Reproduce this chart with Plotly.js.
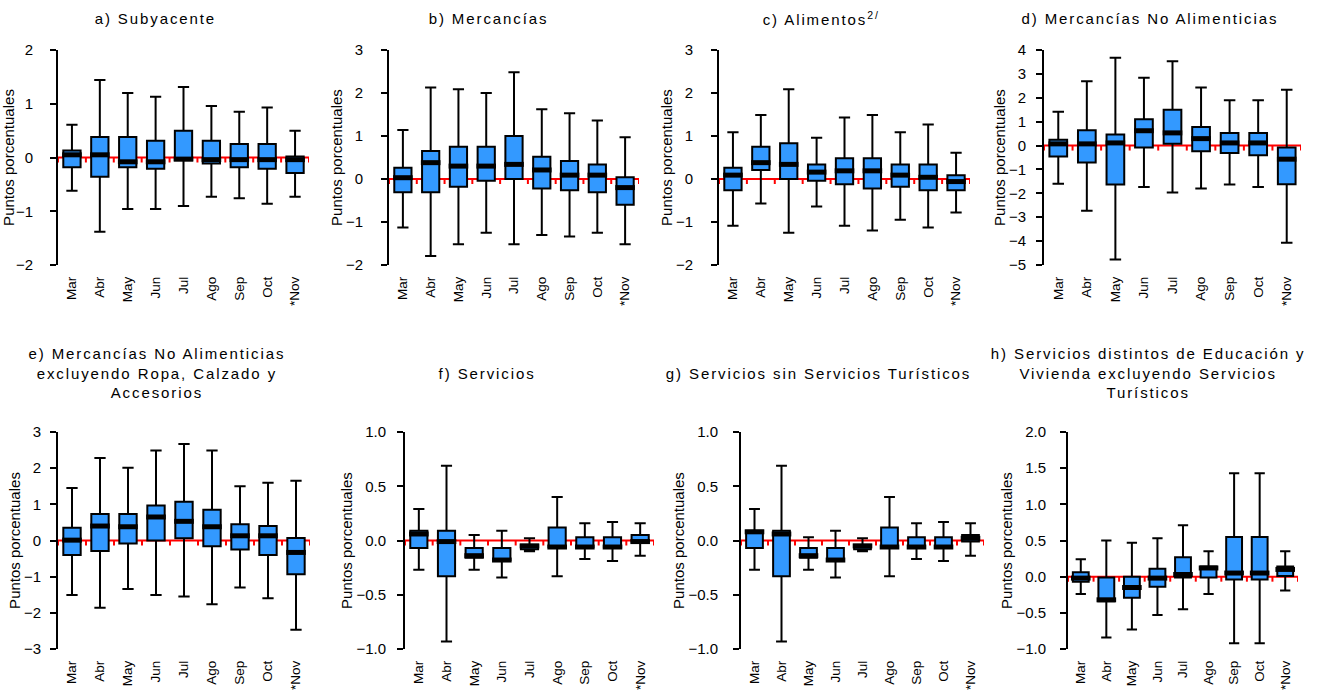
<!DOCTYPE html>
<html>
<head>
<meta charset="utf-8">
<script src="https://cdn.plot.ly/plotly-3.0.1.min.js"></script>
<style>
html,body{margin:0;padding:0;background:#fff;}
#chart{width:1321px;height:691px;}
#chart .annotation-text{letter-spacing:1.9px;}
</style>
</head>
<body>
<div id="chart"></div>
<script>
// ---- categories and tick labels ----
const months = ['Mar','Abr','May','Jun','Jul','Ago','Sep','Oct','Nov'];
const tickLabels = ['Mar','Abr','May','Jun','Jul','Ago','Sep','Oct','*Nov'];

// ---- panel titles ----
const titles = [
  'a) Subyacente',
  'b) Mercancías',
  'c) Alimentos<sup>2/</sup>',
  'd) Mercancías No Alimenticias',
  'e) Mercancías No Alimenticias<br>excluyendo Ropa, Calzado y<br>Accesorios',
  'f) Servicios',
  'g) Servicios sin Servicios Turísticos',
  'h) Servicios distintos de Educación y<br>Vivienda excluyendo Servicios<br>Turísticos'
];
const yTitle = 'Puntos porcentuales';

// ---- series values (min, q1, median, q3, max) ----
const a_min = [-0.62,-1.38,-0.96,-0.96,-0.90,-0.73,-0.76,-0.86,-0.73];
const a_q1  = [-0.18,-0.36,-0.18,-0.21,-0.05,-0.11,-0.18,-0.21,-0.29];
const a_med = [0.05,0.05,-0.08,-0.08,-0.03,-0.04,-0.04,-0.04,-0.04];
const a_q3  = [0.13,0.38,0.38,0.31,0.50,0.31,0.25,0.25,0.02];
const a_max = [0.61,1.44,1.20,1.13,1.31,0.96,0.85,0.93,0.50];

const b_min = [-1.13,-1.79,-1.52,-1.25,-1.52,-1.30,-1.34,-1.25,-1.52];
const b_q1  = [-0.31,-0.31,-0.18,-0.04,0.00,-0.22,-0.26,-0.31,-0.60];
const b_med = [0.03,0.38,0.30,0.30,0.34,0.21,0.09,0.09,-0.20];
const b_q3  = [0.26,0.65,0.75,0.75,1.00,0.52,0.42,0.34,0.04];
const b_max = [1.14,2.13,2.09,2.00,2.48,1.62,1.53,1.36,0.97];

const c_min = [-1.09,-0.57,-1.25,-0.64,-1.09,-1.20,-0.95,-1.13,-0.78];
const c_q1  = [-0.26,0.21,0.00,-0.04,-0.12,-0.22,-0.18,-0.26,-0.26];
const c_med = [0.09,0.38,0.34,0.16,0.19,0.19,0.09,0.04,-0.06];
const c_q3  = [0.26,0.75,0.83,0.34,0.48,0.48,0.34,0.34,0.09];
const c_max = [1.09,1.49,2.09,0.96,1.43,1.49,1.09,1.27,0.61];

const d_min = [-1.60,-2.73,-4.77,-1.73,-1.97,-1.80,-1.63,-1.73,-4.07];
const d_q1  = [-0.46,-0.71,-1.63,-0.08,0.08,-0.24,-0.31,-0.41,-1.62];
const d_med = [0.07,0.07,0.11,0.62,0.53,0.29,0.11,0.11,-0.57];
const d_q3  = [0.24,0.64,0.46,1.10,1.50,0.78,0.53,0.53,-0.08];
const d_max = [1.42,2.69,3.68,2.84,3.53,2.43,1.90,1.90,2.34];

const e_min = [-1.51,-1.86,-1.34,-1.51,-1.55,-1.76,-1.30,-1.60,-2.47];
const e_q1  = [-0.40,-0.29,-0.08,0.00,0.06,-0.16,-0.25,-0.40,-0.93];
const e_med = [0.01,0.40,0.38,0.65,0.53,0.38,0.13,0.13,-0.33];
const e_q3  = [0.35,0.73,0.73,0.97,1.07,0.85,0.45,0.40,0.07];
const e_max = [1.45,2.28,2.01,2.49,2.67,2.49,1.50,1.60,1.65];

const f_min = [-0.27,-0.93,-0.27,-0.34,-0.10,-0.33,-0.17,-0.19,-0.14];
const f_q1  = [-0.07,-0.33,-0.16,-0.18,-0.08,-0.06,-0.06,-0.06,-0.01];
const f_med = [0.06,-0.01,-0.14,-0.18,-0.05,-0.06,-0.06,-0.06,-0.01];
const f_q3  = [0.09,0.09,-0.07,-0.07,-0.04,0.12,0.03,0.03,0.05];
const f_max = [0.29,0.69,0.05,0.09,0.02,0.40,0.16,0.17,0.16];

const g_min = [-0.27,-0.93,-0.27,-0.34,-0.10,-0.33,-0.17,-0.19,-0.14];
const g_q1  = [-0.07,-0.33,-0.16,-0.18,-0.08,-0.06,-0.07,-0.07,-0.01];
const g_med = [0.08,0.06,-0.14,-0.18,-0.05,-0.06,-0.06,-0.06,0.02];
const g_q3  = [0.09,0.09,-0.07,-0.07,-0.04,0.12,0.03,0.03,0.05];
const g_max = [0.29,0.69,0.03,0.09,0.02,0.40,0.16,0.17,0.16];

const h_min = [-0.24,-0.84,-0.73,-0.53,-0.45,-0.24,-0.92,-0.92,-0.19];
const h_q1  = [-0.07,-0.34,-0.29,-0.14,-0.01,-0.01,-0.04,-0.04,0.01];
const h_med = [-0.02,-0.32,-0.15,-0.02,0.03,0.12,0.05,0.05,0.10];
const h_q3  = [0.06,-0.01,0.00,0.11,0.27,0.14,0.55,0.55,0.14];
const h_max = [0.24,0.50,0.47,0.53,0.71,0.35,1.43,1.43,0.35];

const panelData = [
  [a_min,a_q1,a_med,a_q3,a_max],
  [b_min,b_q1,b_med,b_q3,b_max],
  [c_min,c_q1,c_med,c_q3,c_max],
  [d_min,d_q1,d_med,d_q3,d_max],
  [e_min,e_q1,e_med,e_q3,e_max],
  [f_min,f_q1,f_med,f_q3,f_max],
  [g_min,g_q1,g_med,g_q3,g_max],
  [h_min,h_q1,h_med,h_q3,h_max]
];

// ---- axis scales ----
const yRanges = [[-2,2],[-2,3],[-2,3],[-5,4],[-3,3],[-1,1],[-1,1],[-1,2]];
const yDticks = [1,1,1,1,1,0.5,0.5,0.5];
const yFormats = ['d','d','d','d','d','.1f','.1f','.1f'];

// ---- layout geometry (pixels) ----
const W = 1321, H = 691;
const xDom = [[58,309],[389,639],[719,970],[1044,1301],[58,310],[405,654],[741,984],[1068,1298]];
const yDom = [[50,265],[50,265],[50,265],[50,265],[432,649],[432,649],[432,649],[432,649]];
const lblStand = [14,15,15,7,6,8,12,11];
const titlePos = [[155,18],[488,18],[821,18],[1150,18],[157,373],[487,373],[818,373],[1148,373]];

const FONT = 'Liberation Sans, Arial, sans-serif';

const traces = [];
const layout = {
  width: W, height: H,
  margin: {l:0, r:0, t:0, b:0},
  paper_bgcolor: '#fff', plot_bgcolor: '#fff',
  showlegend: false,
  font: {family: FONT, color: '#000'},
  shapes: [], annotations: []
};

panelData.forEach((pd, i) => {
  const n = i + 1;
  const xa = 'x' + (n === 1 ? '' : n), ya = 'y' + (n === 1 ? '' : n);
  const xk = 'xaxis' + (n === 1 ? '' : n), yk = 'yaxis' + (n === 1 ? '' : n);
  const [mn, q1, md, q3, mx] = pd;

  traces.push({
    type: 'box', orientation: 'v', x: months,
    q1: q1, median: md, q3: q3, lowerfence: mn, upperfence: mx,
    xaxis: xa, yaxis: ya,
    fillcolor: '#3399ff', line: {color: '#000', width: 2},
    width: 0.62, whiskerwidth: 0.65, boxpoints: false, hoverinfo: 'skip'
  });
  traces.push({
    type: 'scatter', mode: 'markers', x: months, y: md,
    xaxis: xa, yaxis: ya, hoverinfo: 'skip',
    marker: {symbol: 'line-ew', size: 14, color: '#000', line: {width: 5, color: '#000'}}
  });

  layout[xk] = {
    domain: [xDom[i][0]/W, xDom[i][1]/W], anchor: ya,
    type: 'category', range: [-0.5, 8.5],
    tickvals: months, ticktext: tickLabels, tickangle: -90,
    showline: false, ticks: '', ticklabelstandoff: 8,
    showgrid: false, zeroline: false, fixedrange: true,
    tickfont: {family: FONT, size: 13.5, color: '#000'}
  };
  layout[yk] = {
    domain: [1 - yDom[i][1]/H, 1 - yDom[i][0]/H], anchor: xa,
    range: yRanges[i], dtick: yDticks[i], tick0: 0, tickformat: yFormats[i],
    showline: true, linecolor: '#000', linewidth: 2,
    ticks: 'outside', ticklen: 6, tickwidth: 2, tickcolor: '#000',
    ticklabelstandoff: lblStand[i],
    showgrid: false, zeroline: false, fixedrange: true,
    tickfont: {family: FONT, size: 15, color: '#000'},
    title: {text: yTitle, standoff: 0, font: {family: FONT, size: 15, color: '#000'}}
  };

  // red zero line with downward ticks at category boundaries
  layout.shapes.push({
    type: 'line', xref: xa, yref: ya, x0: -0.5, x1: months.length - 0.5, y0: 0, y1: 0,
    line: {color: '#ff0000', width: 2}, layer: 'below'
  });
  for (let k = 0; k <= months.length; k++) {
    layout.shapes.push({
      type: 'line', xref: xa, yref: ya, ysizemode: 'pixel', yanchor: 0,
      x0: k - 0.5, x1: k - 0.5, y0: 0, y1: -5,
      line: {color: '#ff0000', width: 2}, layer: 'below'
    });
  }

  layout.annotations.push({
    text: titles[i], xref: 'paper', yref: 'paper',
    x: titlePos[i][0]/W, y: 1 - titlePos[i][1]/H,
    xanchor: 'center', yanchor: 'middle', showarrow: false,
    font: {family: FONT, size: 15, color: '#000'}
  });
});

Plotly.newPlot('chart', traces, layout, {displayModeBar: false, staticPlot: true});
</script>
</body>
</html>
